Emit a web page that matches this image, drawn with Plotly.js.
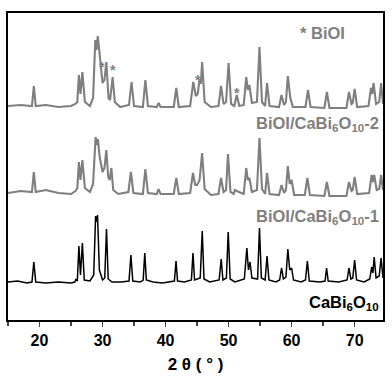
<!DOCTYPE html>
<html>
<head>
<meta charset="utf-8">
<script src="https://cdn.plot.ly/plotly-3.0.1.min.js"></script>
<style>html,body{margin:0;padding:0;background:#fff;}#chart{width:392px;height:377px;}</style>
</head>
<body>
<div id="chart"></div>
<script>
// 2θ (degrees) and intensity (arbitrary, offset)
const caBiX = [15,16.5,18,18.8,19.1,19.4,21,23,25,25.6,25.8,26.0,26.25,26.5,26.8,27.1,28.0,28.6,28.9,29.05,29.2,29.5,30.0,30.35,30.63,30.9,31.5,33.0,34.2,34.5,34.8,36.0,36.45,36.7,36.95,38,39.5,41.4,41.66,41.9,43,44.1,44.35,44.6,45.5,45.82,46.1,47,48.5,48.83,49.1,49.65,49.94,50.25,51,52.5,52.9,53.15,53.4,53.7,54.6,54.9,55.2,55.8,56.1,56.4,57.5,58.1,58.4,58.7,59.1,59.4,59.7,60.0,60.3,61.5,62.2,62.5,62.8,64.5,65.3,65.55,65.8,67.5,68.8,69.1,69.4,69.7,70.0,70.3,71.5,72.4,72.7,72.9,73.1,73.4,73.9,74.2,74.5];
const caBiY = [38,39,37,38,58,38,37,38,37,38,41,39,74,45,77,40,39,45,104,98,105,50,40,42,91,41,38,38,39,65,39,38,40,67,40,38,37,39,59,39,38,40,67,40,42,89,41,38,40,61,40,42,88,41,38,41,72,50,58,42,41,92,42,40,64,40,38,40,52,41,43,71,50,52,40,38,40,59,39,38,39,52,39,38,40,52,41,42,60,40,38,41,53,47,63,42,44,62,42];

const comp1X = [15,17,18.8,19.1,19.4,21,23,25,25.7,26.0,26.25,26.5,26.8,27.2,28.0,28.5,28.9,29.1,29.25,29.55,30.0,30.3,30.6,30.9,31.15,31.4,31.7,32.5,34.1,34.5,34.9,36.4,36.8,37.2,38.6,38.9,39.2,41.3,41.7,42.1,43.9,44.35,44.7,45.0,45.4,45.8,46.2,47.2,48.4,48.8,49.2,49.6,49.9,50.3,50.8,51.0,51.3,52.4,52.8,53.05,53.3,53.7,54.5,54.9,55.3,55.8,56.1,56.5,58.0,58.4,58.8,59.1,59.4,59.7,60.0,60.4,62.1,62.5,62.9,65.2,65.6,66.0,68.7,69.1,69.5,69.7,70.0,70.4,72.3,72.7,72.9,73.1,73.5,73.9,74.2,74.5];
const comp1Y = [127,129,128,148,128,130,127,126,129,132,158,140,160,132,128,136,183,175,181,163,148,152,170,143,140,152,130,126,128,148,127,126,151,127,126,131,126,126,142,126,127,147,135,135,140,167,131,125,126,142,128,130,166,128,126,130,129,126,152,140,142,128,130,182,131,126,147,126,125,135,127,130,154,136,140,125,125,142,125,124,138,124,124,138,129,130,143,126,127,145,138,145,130,131,145,130];

const comp2X = [15,17,18.8,19.1,19.4,21,23,25,25.7,26.0,26.25,26.5,26.8,27.2,28.0,28.5,28.85,29.05,29.25,29.7,30.0,30.3,30.6,30.95,31.2,31.6,31.95,32.8,34.2,34.6,35.0,36.4,36.8,37.2,38.6,38.9,39.2,41.3,41.7,42.1,43.9,44.4,44.8,45.1,45.4,45.6,45.8,46.2,47.2,48.4,48.8,49.2,49.6,50.0,50.4,50.9,51.3,51.7,52.4,52.8,53.05,53.3,53.7,54.5,54.9,55.3,55.8,56.1,56.5,58.0,58.4,58.8,59.1,59.4,59.8,60.2,62.2,62.6,63.0,65.2,65.6,66.0,68.7,69.1,69.5,69.7,70.0,70.4,72.2,72.6,72.8,73.0,73.4,73.9,74.2,74.5];
const comp2Y = [214,215,214,234,214,215,213,214,216,218,245,226,248,218,214,222,280,270,284,252,237,240,258,222,220,243,218,213,215,238,214,213,240,214,213,217,213,213,232,213,214,238,224,226,241,236,258,218,213,214,234,216,218,257,216,214,225,214,215,243,230,235,217,218,273,218,214,237,214,213,225,215,218,244,222,213,213,230,213,212,228,212,212,228,216,217,231,213,214,232,226,237,216,218,237,216];

// positions of the BiOI reflections marked with "*"
const bioiStarX = [29.9, 31.6, 45.1, 51.3];
const bioiStarY = [253, 250, 240, 227];

const seriesNames = ['CaBi<sub>6</sub>O<sub>10</sub>', 'BiOI/CaBi<sub>6</sub>O<sub>10</sub>-1', 'BiOI/CaBi<sub>6</sub>O<sub>10</sub>-2'];
const xTickVals = [20, 30, 40, 50, 60, 70];

const gray = '#7f7f7f';
const traces = [
  {x: caBiX, y: caBiY, type: 'scatter', mode: 'lines', line: {color: '#000', width: 1.5}, name: seriesNames[0]},
  {x: comp1X, y: comp1Y, type: 'scatter', mode: 'lines', line: {color: gray, width: 2.1}, name: seriesNames[1]},
  {x: comp2X, y: comp2Y, type: 'scatter', mode: 'lines', line: {color: gray, width: 2.1}, name: seriesNames[2]}
];

const annotations = bioiStarX.map((x, i) => ({
  x: x, y: bioiStarY[i], xref: 'x', yref: 'y', text: '*', showarrow: false,
  font: {family: 'Liberation Sans, Arial', size: 14, color: gray, weight: 'bold'}
}));
const labFont = (c) => ({family: 'Liberation Sans, Arial', size: 16.5, color: c, weight: 'bold'});
annotations.push(
  {xref: 'paper', yref: 'paper', x: 0.905, y: 0.935, xanchor: 'right', yanchor: 'middle', text: '<b>* BiOI</b>', showarrow: false, font: labFont(gray)},
  {xref: 'paper', yref: 'paper', x: 0.995, y: 0.638, xanchor: 'right', yanchor: 'middle', text: '<b>' + seriesNames[2] + '</b>', showarrow: false, font: labFont(gray)},
  {xref: 'paper', yref: 'paper', x: 0.995, y: 0.335, xanchor: 'right', yanchor: 'middle', text: '<b>' + seriesNames[1] + '</b>', showarrow: false, font: labFont(gray)},
  {xref: 'paper', yref: 'paper', x: 0.995, y: 0.055, xanchor: 'right', yanchor: 'middle', text: '<b>' + seriesNames[0] + '</b>', showarrow: false, font: labFont('#000')}
);

const layout = {
  width: 392, height: 377,
  margin: {l: 8, r: 9, t: 13, b: 57},
  paper_bgcolor: '#fff', plot_bgcolor: '#fff',
  showlegend: false,
  xaxis: {
    range: [15, 74.5], tickvals: xTickVals, ticks: 'outside', ticklen: 5, tickwidth: 1.3,
    minor: {dtick: 5, tick0: 15, ticks: 'outside', ticklen: 4, tickwidth: 1.3},
    showgrid: false, zeroline: false, showline: true, linecolor: '#000', linewidth: 1.6, mirror: true,
    tickfont: {family: 'Liberation Sans, Arial', size: 16, color: '#000', weight: 'bold'},
    title: {text: '<b>2 θ ( ° )</b>', font: {family: 'Liberation Sans, Arial', size: 17, color: '#000'}, standoff: 10}
  },
  yaxis: {
    range: [0, 307], showticklabels: false, ticks: '', showgrid: false, zeroline: false,
    showline: true, linecolor: '#000', linewidth: 1.6, mirror: true
  },
  annotations: annotations
};

Plotly.newPlot('chart', traces, layout, {displayModeBar: false, staticPlot: true});
</script>
</body>
</html>
